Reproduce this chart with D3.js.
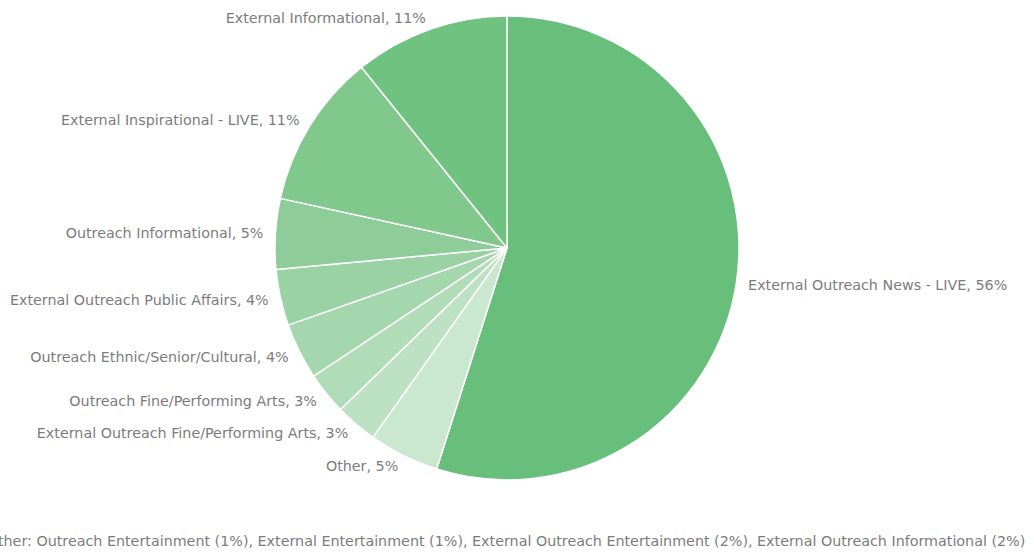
<!DOCTYPE html>
<html>
<head>
<meta charset="utf-8">
<script src="https://cdn.jsdelivr.net/npm/d3@7/dist/d3.min.js"></script>
<style>
  html, body { margin: 0; padding: 0; background: #fff; }
  svg { display: block; }
  text { font-family: "DejaVu Sans", Verdana, sans-serif; font-size: 14.3px; fill: #7c7c7c; }
</style>
</head>
<body>
<svg id="chart" width="1034" height="552"></svg>
<script>
// Share of programming by category (percent, as labelled)
const categories = [
  "External Outreach News - LIVE",
  "Other",
  "External Outreach Fine/Performing Arts",
  "Outreach Fine/Performing Arts",
  "Outreach Ethnic/Senior/Cultural",
  "External Outreach Public Affairs",
  "Outreach Informational",
  "External Inspirational - LIVE",
  "External Informational"
];
const shares = [56, 5, 3, 3, 4, 4, 5, 11, 11];
const sliceColors = [
  "#68be7b", "#c9e8cf", "#bde2c3", "#b1dcb8", "#a5d7ae",
  "#9ad2a4", "#8ecd99", "#80c88c", "#70c281"
];
const otherBreakdown = [
  ["Outreach Entertainment", 1],
  ["External Entertainment", 1],
  ["External Outreach Entertainment", 2],
  ["External Outreach Informational", 2]
];

const svg = d3.select("#chart");
const cx = 507, cy = 248, radius = 232, labelRadius = radius + 12;

const data = categories.map((name, i) => ({ name, value: shares[i], color: sliceColors[i] }));

const pie = d3.pie().value(d => d.value).sort(null);
const arc = d3.arc().innerRadius(0).outerRadius(radius);
const labelArc = d3.arc().innerRadius(labelRadius).outerRadius(labelRadius);

const g = svg.append("g").attr("transform", `translate(${cx},${cy})`);
const arcs = pie(data);

g.selectAll("path.slice")
  .data(arcs)
  .join("path")
  .attr("class", "slice")
  .attr("d", arc)
  .attr("fill", d => d.data.color)
  .attr("stroke", "#fff")
  .attr("stroke-width", 1.5)
  .attr("stroke-linejoin", "round");

g.selectAll("text.label")
  .data(arcs)
  .join("text")
  .attr("class", "label")
  .attr("x", d => labelArc.centroid(d)[0])
  .attr("y", d => labelArc.centroid(d)[1])
  .attr("dy", "0.35em")
  .attr("text-anchor", d => ((d.startAngle + d.endAngle) / 2 < Math.PI ? "start" : "end"))
  .text(d => `${d.data.name}, ${d.data.value}%`);

// Footnote listing what is grouped under "Other"
svg.append("text")
  .attr("x", cx - 1)
  .attr("y", 546)
  .attr("text-anchor", "middle")
  .text("Other: " + otherBreakdown.map(([n, v]) => `${n} (${v}%)`).join(", "));
</script>
</body>
</html>
